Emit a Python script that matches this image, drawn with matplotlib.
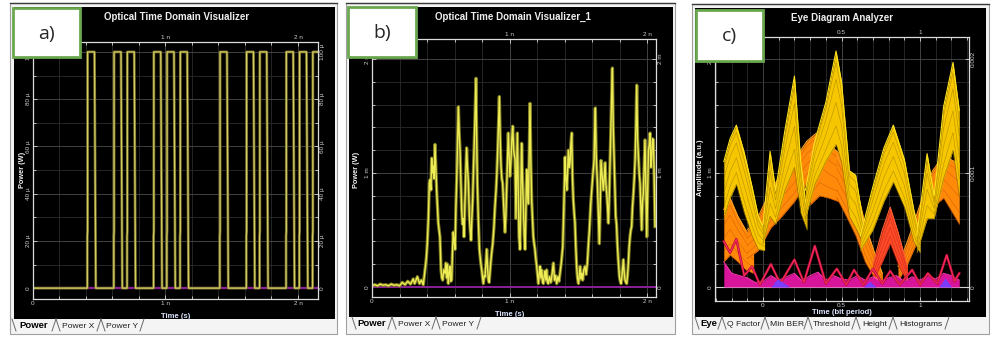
import numpy as np
import matplotlib.pyplot as plt
from matplotlib.patches import Rectangle
from matplotlib.lines import Line2D
from matplotlib.ticker import FuncFormatter

plt.rcParams['font.family'] = ['Liberation Sans', 'DejaVu Sans']

W, H = 991, 337

# ---------------- a) transmitted bits, 0.1 ns slots, peak power in uW
bits_a = [0, 0, 0, 0, 1, 0, 1, 1, 0, 1, 1, 1, 0, 0, 1, 0, 1, 1, 0, 1, 1, 1]
slot_a = 0.1      # ns
start_a = 0.01    # ns
peak_a = 100.0    # uW
pulse_dt = [0.0, 0.0, 0.002, 0.002, 0.054, 0.056, 0.060, 0.064]
pulse_lv = [0.0, 0.22, 0.24, 1.0, 1.0, 0.80, 0.40, 0.0]

# ---------------- b) received power (ns, mW)
b_samples = [
    (0.00, 0.01), (0.02, 0.02), (0.04, 0.01), (0.06, 0.025), (0.08, 0.015), (0.10, 0.02),
    (0.12, 0.01), (0.14, 0.025), (0.16, 0.015), (0.18, 0.02), (0.20, 0.01), (0.22, 0.04),
    (0.24, 0.02), (0.26, 0.05), (0.28, 0.025), (0.30, 0.07), (0.31, 0.03), (0.33, 0.09),
    (0.345, 0.03), (0.36, 0.06), (0.373, 0.02), (0.385, 0.15), (0.395, 0.25), (0.402, 0.38),
    (0.41, 0.60), (0.417, 0.91), (0.422, 0.94), (0.428, 0.85), (0.434, 1.13), (0.44, 1.00),
    (0.446, 1.06), (0.452, 0.95), (0.458, 1.25), (0.464, 1.05), (0.47, 0.85), (0.476, 0.70),
    (0.482, 0.56), (0.488, 0.50), (0.494, 0.44), (0.502, 0.15), (0.508, 0.08), (0.514, 0.06),
    (0.522, 0.15), (0.531, 0.12), (0.537, 0.21), (0.543, 0.08), (0.549, 0.20), (0.555, 0.03),
    (0.561, 0.12), (0.567, 0.18), (0.573, 0.05), (0.579, 0.06), (0.585, 0.30), (0.591, 0.48),
    (0.597, 0.40), (0.604, 0.33), (0.61, 0.70), (0.616, 0.95), (0.622, 1.25), (0.628, 1.58),
    (0.634, 1.35), (0.64, 1.20), (0.646, 0.95), (0.652, 0.68), (0.658, 0.55), (0.664, 0.60),
    (0.669, 0.44), (0.676, 0.76), (0.682, 1.00), (0.688, 1.22), (0.694, 1.05), (0.701, 0.91),
    (0.708, 0.62), (0.714, 0.50), (0.72, 0.41), (0.726, 0.60), (0.732, 0.76), (0.737, 1.00),
    (0.742, 1.20), (0.748, 1.45), (0.752, 1.65), (0.756, 1.83), (0.761, 1.30), (0.766, 0.91),
    (0.773, 0.60), (0.781, 0.33), (0.79, 0.22), (0.798, 0.15), (0.804, 0.08), (0.81, 0.03),
    (0.816, 0.10), (0.822, 0.09), (0.828, 0.20), (0.834, 0.33), (0.84, 0.18), (0.846, 0.06),
    (0.852, 0.04), (0.857, 0.12), (0.863, 0.21), (0.87, 0.30), (0.878, 0.38), (0.887, 0.53),
    (0.894, 0.70), (0.902, 0.85), (0.908, 1.00), (0.914, 1.20), (0.92, 1.45), (0.926, 1.67),
    (0.932, 1.30), (0.938, 1.06), (0.944, 0.95), (0.95, 0.91), (0.958, 0.70), (0.967, 0.48),
    (0.973, 0.62), (0.979, 0.85), (0.985, 1.10), (0.991, 1.35), (0.997, 1.15), (1.003, 0.97),
    (1.01, 1.10), (1.017, 1.30), (1.023, 1.41), (1.03, 1.20), (1.04, 1.12), (1.047, 0.60),
    (1.057, 1.35), (1.063, 0.90), (1.069, 0.44), (1.076, 0.33), (1.082, 0.80), (1.088, 1.26),
    (1.094, 0.95), (1.101, 0.70), (1.107, 0.45), (1.113, 0.33), (1.119, 0.70), (1.125, 1.03),
    (1.131, 0.85), (1.137, 0.73), (1.143, 1.20), (1.149, 1.61), (1.155, 1.10), (1.161, 0.76),
    (1.167, 0.60), (1.173, 0.44), (1.179, 0.38), (1.185, 0.33), (1.191, 0.25), (1.198, 0.18),
    (1.204, 0.10), (1.21, 0.03), (1.216, 0.12), (1.222, 0.18), (1.228, 0.08), (1.234, 0.15),
    (1.24, 0.05), (1.246, 0.03), (1.252, 0.10), (1.258, 0.14), (1.264, 0.06), (1.27, 0.15),
    (1.276, 0.04), (1.282, 0.03), (1.29, 0.09), (1.30, 0.04), (1.31, 0.12), (1.319, 0.21),
    (1.327, 0.06), (1.335, 0.10), (1.343, 0.03), (1.352, 0.09), (1.36, 0.05), (1.367, 0.12),
    (1.377, 0.22), (1.387, 0.35), (1.395, 0.70), (1.404, 1.14), (1.41, 0.95), (1.416, 0.85),
    (1.422, 1.00), (1.428, 1.20), (1.434, 1.05), (1.44, 1.09), (1.446, 1.25), (1.452, 1.35),
    (1.458, 0.95), (1.464, 0.76), (1.47, 0.65), (1.476, 0.56), (1.482, 0.35), (1.488, 0.18),
    (1.494, 0.08), (1.501, 0.03), (1.507, 0.10), (1.513, 0.18), (1.52, 0.07), (1.526, 0.12),
    (1.532, 0.06), (1.54, 0.15), (1.549, 0.18), (1.557, 0.11), (1.566, 0.21), (1.574, 0.38),
    (1.581, 0.50), (1.59, 0.72), (1.598, 0.85), (1.607, 1.00), (1.615, 1.11), (1.62, 1.40),
    (1.624, 1.57), (1.63, 1.15), (1.639, 0.91), (1.646, 0.65), (1.653, 0.38), (1.659, 0.70),
    (1.665, 1.11), (1.672, 1.00), (1.682, 0.85), (1.688, 0.95), (1.695, 1.09), (1.701, 0.90),
    (1.707, 0.82), (1.713, 0.70), (1.719, 0.56), (1.725, 0.80), (1.731, 1.11), (1.738, 1.45),
    (1.744, 1.75), (1.748, 1.92), (1.754, 1.40), (1.76, 1.14), (1.766, 0.85), (1.772, 0.62),
    (1.778, 0.55), (1.784, 0.38), (1.79, 0.25), (1.799, 0.09), (1.805, 0.05), (1.811, 0.03),
    (1.818, 0.10), (1.828, 0.24), (1.834, 0.12), (1.84, 0.06), (1.846, 0.04), (1.852, 0.03),
    (1.858, 0.10), (1.864, 0.21), (1.87, 0.35), (1.876, 0.44), (1.882, 0.50), (1.888, 0.53),
    (1.894, 0.70), (1.901, 0.82), (1.907, 0.95), (1.913, 1.11), (1.919, 1.40), (1.925, 1.77),
    (1.931, 1.30), (1.937, 1.14), (1.943, 1.00), (1.949, 0.91), (1.955, 0.70), (1.961, 0.50),
    (1.967, 0.75), (1.973, 0.82), (1.979, 1.05), (1.985, 1.29), (1.991, 0.90), (1.998, 0.44),
    (2.004, 0.80), (2.01, 1.20), (2.016, 1.25), (2.022, 1.35), (2.028, 1.05), (2.034, 1.14),
    (2.04, 1.30), (2.046, 1.29), (2.052, 0.95), (2.058, 0.53),
]

# ---------------- c) eye diagram bundles: (time in bit periods, upper mW, lower mW)
yellow_bundles = [
    ([-0.25, -0.21, -0.17, -0.12, -0.07, -0.03, 0.01],
     [1.10, 1.30, 1.42, 1.18, 0.88, 0.62, 0.50],
     [0.60, 0.78, 0.90, 0.65, 0.45, 0.33, 0.32]),
    ([0.00, 0.045, 0.08, 0.14, 0.20, 0.24, 0.28],
     [0.55, 1.19, 0.85, 1.38, 1.85, 1.10, 0.65],
     [0.38, 0.62, 0.55, 0.85, 1.05, 0.65, 0.50]),
    ([0.27, 0.33, 0.40, 0.465, 0.50, 0.55, 0.59, 0.64],
     [0.85, 1.28, 1.62, 2.07, 1.80, 1.02, 0.98, 0.55],
     [0.60, 0.90, 1.10, 1.25, 1.10, 0.62, 0.52, 0.38]),
    ([0.62, 0.70, 0.77, 0.83, 0.90, 0.96, 1.00],
     [0.45, 0.88, 1.22, 1.42, 1.12, 0.68, 0.45],
     [0.32, 0.50, 0.75, 0.92, 0.70, 0.40, 0.30]),
    ([0.98, 1.045, 1.09, 1.15, 1.21, 1.25],
     [0.45, 1.17, 0.80, 1.58, 1.97, 1.55],
     [0.30, 0.60, 0.60, 0.95, 1.20, 0.80]),
]
orange_bundles = [
    ([-0.25, -0.21, -0.16, -0.11, -0.06],
     [0.68, 0.78, 0.62, 0.50, 0.38],
     [0.22, 0.28, 0.22, 0.15, 0.12]),
    ([-0.10, -0.03, 0.05, 0.12, 0.20, 0.28, 0.34],
     [0.50, 0.62, 0.85, 1.00, 1.12, 1.28, 1.35],
     [0.25, 0.32, 0.52, 0.62, 0.75, 0.92, 1.00]),
    ([0.30, 0.36, 0.42, 0.48, 0.53],
     [1.15, 1.38, 1.25, 1.18, 1.05],
     [0.72, 0.80, 0.78, 0.75, 0.70]),
    ([0.47, 0.53, 0.59, 0.65, 0.71, 0.76],
     [1.15, 1.00, 0.90, 0.55, 0.30, 0.12],
     [0.78, 0.62, 0.45, 0.22, 0.08, 0.02]),
    ([0.86, 0.92, 1.00, 1.08, 1.15, 1.25],
     [0.18, 0.40, 0.72, 1.02, 1.15, 1.08],
     [0.05, 0.20, 0.45, 0.70, 0.78, 0.55]),
]
redorange_bundles = [
    ([0.70, 0.76, 0.81, 0.86, 0.92],
     [0.20, 0.50, 0.70, 0.48, 0.18],
     [0.05, 0.22, 0.38, 0.20, 0.04]),
]
red_t = [-0.25, -0.21, -0.17, -0.12, -0.07, -0.02, 0.05, 0.11, 0.20, 0.26, 0.33, 0.40, 0.47,
         0.53, 0.58, 0.64, 0.70, 0.76, 0.81, 0.87, 0.95, 1.00, 1.05, 1.11, 1.17, 1.22, 1.25]
red_p = [0.40, 0.30, 0.42, 0.10, 0.18, 0.02, 0.20, 0.03, 0.24, 0.04, 0.36, 0.03, 0.16,
         0.02, 0.15, 0.02, 0.16, 0.03, 0.14, 0.02, 0.15, 0.02, 0.12, 0.03, 0.28, 0.05, 0.12]
mag_t = [-0.25, -0.20, -0.15, -0.10, -0.05, 0.00, 0.05, 0.10, 0.15, 0.20, 0.25, 0.30, 0.35,
         0.40, 0.45, 0.50, 0.55, 0.60, 0.65, 0.70, 0.75, 0.80, 0.85, 0.90, 0.95, 1.00, 1.05,
         1.10, 1.15, 1.20, 1.25]
mag_hi = [0.22, 0.12, 0.10, 0.08, 0.04, 0.05, 0.10, 0.06, 0.09, 0.12, 0.05, 0.10, 0.13,
          0.06, 0.10, 0.07, 0.06, 0.10, 0.06, 0.09, 0.05, 0.08, 0.10, 0.05, 0.09, 0.06, 0.10,
          0.07, 0.12, 0.10, 0.06]
blue_spots = [
    ([0.05, 0.09, 0.13, 0.17], [0.0, 0.07, 0.04, 0.0]),
    ([0.64, 0.68, 0.72], [0.0, 0.05, 0.0]),
    ([1.12, 1.16, 1.20], [0.0, 0.08, 0.0]),
]

tabs_a = ['Power', 'Power X', 'Power Y']
tabs_c = ['Eye', 'Q Factor', 'Min BER', 'Threshold', 'Height', 'Histograms']


# ---------------- helpers (pixel layout -> figure coords)
def box(x0, y0, x1, y1):
    return [x0 / W, 1 - y1 / H, (x1 - x0) / W, (y1 - y0) / H]


def rect(fig, x0, y0, x1, y1, **kw):
    fig.add_artist(Rectangle((x0 / W, 1 - y1 / H), (x1 - x0) / W, (y1 - y0) / H,
                             transform=fig.transFigure, **kw))


def seg(fig, xs, ys, **kw):
    fig.add_artist(Line2D([x / W for x in xs], [1 - y / H for y in ys],
                          transform=fig.transFigure, **kw))


def txt(fig, x, y, s, **kw):
    fig.text(x / W, 1 - y / H, s, **kw)


def window(fig, outer, black, names, edges, title, title_x, lab_box, lab):
    x0, y0, x1, y1 = outer
    rect(fig, x0, y0, x1, y1, facecolor='#f4f4f4', edgecolor='#a0a0a0', lw=0.8, zorder=-5)
    seg(fig, [x0, x1], [y0, y0], color='#3a3a3a', lw=1.0, zorder=-4)
    bx0, by0, bx1, by1 = black
    rect(fig, bx0, by0, bx1, by1, facecolor='black', edgecolor='none', zorder=-4)
    top, bot = by1, by1 + 12
    for i, name in enumerate(names):
        xl, xr = edges[i], edges[i + 1]
        seg(fig, [xl, xl + 4], [top, bot], color='#6a6a6a', lw=0.7)
        seg(fig, [xr - 4, xr], [bot, top], color='#6a6a6a', lw=0.7)
        if i == 0:
            txt(fig, (xl + xr) / 2, top + 7, name, ha='center', va='center',
                fontsize=6.8, fontweight='bold', color='black')
        else:
            txt(fig, (xl + xr) / 2, top + 7, name, ha='center', va='center',
                fontsize=6.1, color='#202020')
    txt(fig, title_x, y0 + 14, title, ha='center', va='center', fontsize=7,
        fontweight='bold', color='#eeeeee')
    lx0, ly0, lx1, ly1 = lab_box
    rect(fig, lx0, ly0, lx1, ly1, facecolor='white', edgecolor='#6aa84f', lw=2.0, zorder=6)
    txt(fig, (lx0 + lx1) / 2, (ly0 + ly1) / 2 + 1, lab, ha='center', va='center',
        fontsize=14, color='#262626', family=['Open Sans', 'DejaVu Sans'], zorder=7)


def setup(ax, xlim, ylim, xmaj, xmin, ymaj, ymin, xfmt, yfmt, right=True):
    ax.set_facecolor('black')
    ax.set_xlim(*xlim)
    ax.set_ylim(*ylim)
    ax.set_xticks(xmaj)
    ax.set_xticks(xmin, minor=True)
    ax.set_yticks(ymaj)
    ax.set_yticks(ymin, minor=True)
    ax.xaxis.set_major_formatter(FuncFormatter(xfmt))
    ax.yaxis.set_major_formatter(FuncFormatter(yfmt))
    ax.grid(True, which='major', color='#4c4c4c', lw=0.6)
    ax.grid(True, which='minor', color='#2c2c2c', lw=0.6)
    ax.set_axisbelow(True)
    ax.tick_params(which='both', direction='in', colors='#d8d8d8', labelcolor='#cfcfcf',
                   labelsize=4.6, top=True, right=True, labeltop=True, labelright=right, pad=1.5)
    ax.tick_params(which='major', length=3, width=0.6)
    ax.tick_params(which='minor', length=2, width=0.6)
    ax.tick_params(axis='y', labelrotation=90)
    for t in ax.yaxis.get_major_ticks():
        t.label1.set_va('center')
        t.label2.set_va('center')
    for s in ax.spines.values():
        s.set_color('#dcdcdc')
        s.set_linewidth(0.9)


def unit_fmt(u):
    return lambda v, _: '0' if abs(v) < 1e-9 else f'{v:g} {u}'


fig = plt.figure(figsize=(W / 100, H / 100), dpi=100)
fig.patch.set_facecolor('white')

# ================= a)
window(fig, (10, 3, 337, 334), (14, 7, 335, 319), tabs_a, [12, 56, 101, 144],
       'Optical Time Domain Visualizer', 177, (13, 8, 80, 57), 'a)')
ax = fig.add_axes(box(33, 42, 318, 299))
setup(ax, (0, 2.151), (-4.6, 104.2), [0, 1, 2], np.arange(0, 2.2, 0.2),
      np.arange(0, 101, 20), np.arange(0, 101, 10), unit_fmt('n'), unit_fmt('µ'))
ta, pa = [0.0], [0.0]
for k, b in enumerate(bits_a):
    if b:
        t0 = start_a + k * slot_a
        ta += [t0 + d for d in pulse_dt]
        pa += [peak_a * v for v in pulse_lv]
ta.append(2.2)
pa.append(0.0)
ax.axhline(0, color='#8a2096', lw=1.6)
ax.plot(ta, pa, color='#6e6a28', lw=2.0)
ax.plot(ta, pa, color='#d6cc62', lw=0.9)
txt(fig, 176, 316, 'Time (s)', ha='center', va='center', fontsize=5.5,
    fontweight='bold', color='#dde6ff')
txt(fig, 22, 170, 'Power (W)', ha='center', va='center', fontsize=5.3,
    fontweight='bold', color='#f0f0f0', rotation=90)

# ================= b)
window(fig, (346, 3, 675, 334), (349, 7, 673, 317), tabs_a, [352, 392, 436, 481],
       'Optical Time Domain Visualizer_1', 513, (348, 7, 416, 57), 'b)')
ax = fig.add_axes(box(372, 39, 656, 297))
setup(ax, (0, 2.065), (-0.088, 2.175), [0, 1, 2], np.arange(0, 2.1, 0.2),
      [0, 1, 2], np.arange(0, 2.1, 0.2), unit_fmt('n'), unit_fmt('m'))
b_time = [s[0] for s in b_samples]
b_power = [s[1] for s in b_samples]
ax.axhline(0, color='#8a2096', lw=1.4)
ax.plot(b_time, b_power, color='#7c7a22', lw=2.4)
ax.plot(b_time, b_power, color='#eeec55', lw=1.0)
txt(fig, 510, 314, 'Time (s)', ha='center', va='center', fontsize=5.5,
    fontweight='bold', color='#dde6ff')
txt(fig, 356, 170, 'Power (W)', ha='center', va='center', fontsize=5.3,
    fontweight='bold', color='#f0f0f0', rotation=90)

# ================= c)
window(fig, (692, 4, 989, 334), (695, 8, 986, 317), tabs_c,
       [695, 722, 765, 808, 856, 893, 949],
       'Eye Diagram Analyzer', 842, (696, 10, 763, 61), 'c)')
ax = fig.add_axes(box(715, 37, 969, 301))
setup(ax, (-0.306, 1.312), (-0.123, 2.193), [0, 0.5, 1], np.arange(-0.3, 1.31, 0.1),
      [0, 1, 2], np.arange(0, 2.1, 0.2), lambda v, _: f'{v:g}', unit_fmt('m'), right=False)
ax2 = ax.twinx()
ax2.set_ylim(ax.get_ylim())
ax2.set_yticks([0, 1, 2])
ax2.yaxis.set_major_formatter(FuncFormatter(lambda v, _: f'{v / 1000:g}'))
ax2.tick_params(direction='in', colors='#d8d8d8', labelcolor='#cfcfcf', labelsize=4.6,
                length=3, width=0.6, pad=1.5, labelrotation=90)
for t in ax2.yaxis.get_major_ticks():
    t.label2.set_va('center')
for s in ax2.spines.values():
    s.set_visible(False)
ax.axhline(0, color='#d0d0d0', lw=0.8, zorder=1)


def draw_bundle(t, hi, lo, fill, light, dark, z):
    t, hi, lo = np.array(t), np.array(hi), np.array(lo)
    ax.fill_between(t, lo, hi, color=fill, lw=0, zorder=z)
    for f in (0.2, 0.45, 0.7, 0.88):
        ax.plot(t, lo + (hi - lo) * f, color=dark, lw=0.4, alpha=0.6, zorder=z)
    ax.plot(t, hi, color=light, lw=0.8, zorder=z)
    ax.plot(t, lo, color=dark, lw=0.5, alpha=0.8, zorder=z)


for t, hi, lo in orange_bundles:
    draw_bundle(t, hi, lo, '#ff8a0a', '#ffa020', '#c04a00', 2)
for t, hi, lo in yellow_bundles:
    draw_bundle(t, hi, lo, '#f6c600', '#ffe21c', '#8a6c00', 3)
for t, hi, lo in redorange_bundles:
    draw_bundle(t, hi, lo, '#ff4a28', '#ff6030', '#b01a10', 4)
ax.fill_between(mag_t, 0, mag_hi, color='#d8149a', lw=0, zorder=4)
ax.plot(mag_t, mag_hi, color='#ff3ab0', lw=0.7, zorder=4)
ax.plot(red_t, red_p, color='#b0103a', lw=1.8, zorder=5)
ax.plot(red_t, red_p, color='#ff2a5a', lw=0.8, zorder=5)
for t, hi in blue_spots:
    ax.fill_between(t, 0, hi, color='#7a3cff', lw=0, zorder=6)
txt(fig, 842, 312, 'Time (bit period)', ha='center', va='center', fontsize=5.5,
    fontweight='bold', color='#dde6ff')
txt(fig, 701, 168, 'Amplitude (a.u.)', ha='center', va='center', fontsize=5.3,
    fontweight='bold', color='#f0f0f0', rotation=90)

fig.savefig('out.png', dpi=100)
